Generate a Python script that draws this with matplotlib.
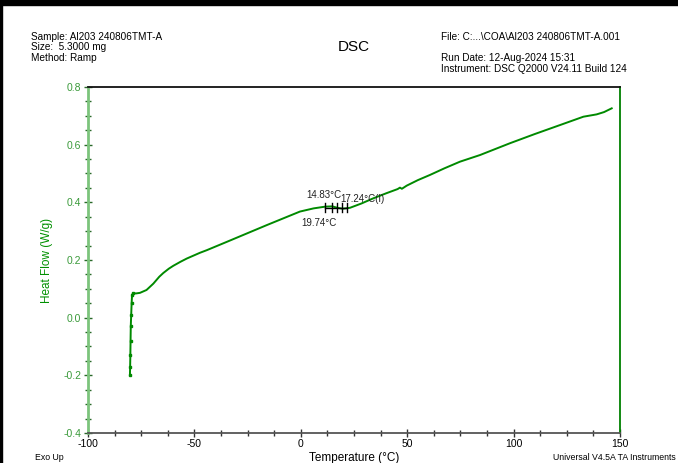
import matplotlib
matplotlib.use("Agg")
import matplotlib.pyplot as plt
from matplotlib.patches import Rectangle

plt.rcParams['font.family'] = ['Liberation Sans', 'DejaVu Sans']
plt.rcParams['axes.unicode_minus'] = False

# Curve samples (Temperature °C, Heat Flow W/g)
temperature = [-80.3, -80.2, -80.1, -80.0, -79.9, -79.7, -79.5, -79.3, -78.7, -77.5,
               -75.6, -72.5, -69.3, -66.5, -64.6, -62.0, -59.9, -56.5, -53.6, -47.4,
               -44.2, -34.1, -16.0, -0.4, 6.0, 11.4, 14.8, 17.2, 19.7, 23.1, 28.5,
               34.1, 40.0, 45.5, 46.6, 47.5, 49.8, 55.0, 60.7, 67.5, 74.8, 84.2,
               98.3, 110.0, 121.8, 132.8, 139.0, 142.5, 146.1]
heat_flow = [-0.199, -0.17, -0.13, -0.08, -0.03, 0.01, 0.05, 0.079, 0.085, 0.084,
             0.086, 0.096, 0.118, 0.142, 0.155, 0.170, 0.180, 0.194, 0.205, 0.225,
             0.234, 0.265, 0.321, 0.368, 0.379, 0.385, 0.386, 0.381, 0.378, 0.381, 0.396,
             0.414, 0.431, 0.446, 0.451, 0.447, 0.458, 0.477, 0.495, 0.518, 0.541, 0.564,
             0.605, 0.637, 0.668, 0.697, 0.705, 0.713, 0.726]

# Glass transition markers
tg_marks = [11.4, 14.5, 16.9, 19.2, 21.6]
tg_level = 0.382
tg_labels = ["14.83°C", "17.24°C(I)", "19.74°C"]
tg_label_pos = [(2.4, 0.425), (18.6, 0.413), (0.4, 0.327)]

header_left = ["Sample: Al203 240806TMT-A", "Size:  5.3000 mg", "Method: Ramp"]
header_right = ["File: C:...\\COA\\Al203 240806TMT-A.001", "", "Run Date: 12-Aug-2024 15:31",
                "Instrument: DSC Q2000 V24.11 Build 124"]

W, H = 678, 463
fig = plt.figure(figsize=(W / 100, H / 100), dpi=100)
ax = fig.add_axes([88 / W, 1 - 433 / H, (620 - 88) / W, (433 - 87) / H])

ax.plot(temperature, heat_flow, color='#008a00', lw=1.4, solid_joinstyle='round')
ax.plot(temperature[:9], heat_flow[:9], ls='none', marker='s', ms=1.8, color='#008a00')

ax.set_xlim(-100, 150)
ax.set_ylim(-0.4, 0.8)
ax.set_xticks([-100, -50, 0, 50, 100, 150])
ax.set_xticks([-100 + 12.5 * i for i in range(21)], minor=True)
ax.set_yticks([-0.4, -0.2, 0.0, 0.2, 0.4, 0.6, 0.8])
ax.set_yticks([-0.4 + 0.05 * i for i in range(25)], minor=True)
ax.set_yticklabels(["-0.4", "-0.2", "0.0", "0.2", "0.4", "0.6", "0.8"])
ax.set_xticklabels(["-100", "-50", "0", "50", "100", "150"])

ax.tick_params(axis='both', which='both', direction='inout', labelsize=7.5)
ax.tick_params(axis='both', which='major', length=6, width=1)
ax.tick_params(axis='both', which='minor', length=4, width=1)
ax.tick_params(axis='y', labelcolor='#3a9a3a', pad=2)
ax.tick_params(axis='y', which='both', color='#2a6a2a')
ax.tick_params(axis='x', which='both', color='#333333', labelcolor='black', pad=1)

ax.spines['left'].set_color('#7cc47c')
ax.spines['left'].set_linewidth(2)
ax.spines['right'].set_color('#008000')
ax.spines['right'].set_linewidth(1.3)
ax.spines['top'].set_color('#111111')
ax.spines['top'].set_linewidth(1.3)
ax.spines['bottom'].set_color('#555555')
ax.spines['bottom'].set_linewidth(1.3)

ax.set_ylabel("Heat Flow (W/g)", color='#009000', fontsize=8.5, labelpad=7)

# Tg markers
ax.plot([tg_marks[0], tg_marks[-1]], [tg_level, tg_level], color='black', lw=1)
for t in tg_marks:
    ax.plot([t, t], [tg_level - 0.016, tg_level + 0.016], color='black', lw=1)
for lab, (tx, ty) in zip(tg_labels, tg_label_pos):
    ax.text(tx, ty, lab, fontsize=7, va='center', ha='left', color='#222222')

# Header texts
for i, s in enumerate(header_left):
    fig.text(31 / W, 1 - (37 + 10.5 * i) / H, s, fontsize=7.2, va='center', ha='left')
for i, s in enumerate(header_right):
    if s:
        fig.text(441 / W, 1 - (37 + 10.5 * i) / H, s, fontsize=7.2, va='center', ha='left')
fig.text(354 / W, 1 - 47 / H, "DSC", fontsize=11, va='center', ha='center')

fig.text(35 / W, 1 - 458 / H, "Exo Up", fontsize=6.3, va='center', ha='left')
fig.text(354 / W, 1 - 458 / H, "Temperature (°C)", fontsize=8.5, va='center', ha='center')
fig.text(676 / W, 1 - 458 / H, "Universal V4.5A TA Instruments", fontsize=6.3, va='center', ha='right')

# Figure frame: thick top bar, thin left line
fig.patches.append(Rectangle((0, 1 - 5 / H), 1, 5 / H, transform=fig.transFigure,
                             color='black', zorder=10))
fig.patches.append(Rectangle((0, 0), 1.5 / W, 1, transform=fig.transFigure,
                             color='black', zorder=10))

fig.savefig("out.png", dpi=100)
